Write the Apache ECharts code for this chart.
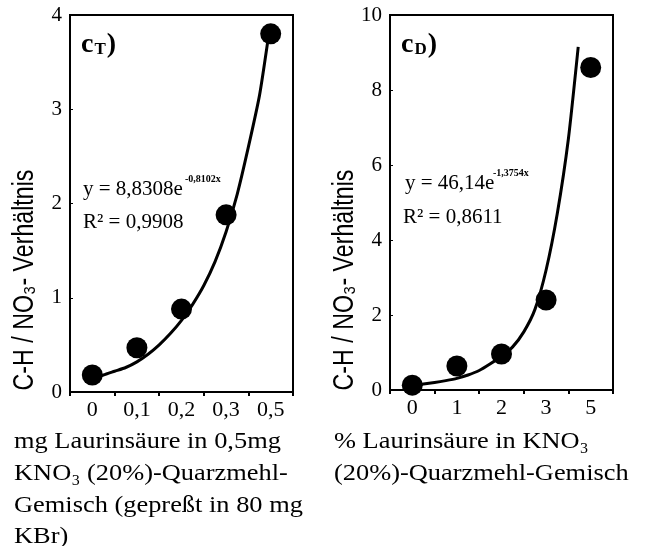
<!DOCTYPE html>
<html><head><meta charset="utf-8">
<script src="https://cdn.jsdelivr.net/npm/echarts@6/dist/echarts.min.js"></script>
<style>html,body{margin:0;padding:0;background:#fff}#c{width:649px;height:546px}</style>
</head><body><div id="c"></div>
<script>
// Panel cT
const catsT = ['0', '0,1', '0,2', '0,3', '0,5'];
const valsT = [0.18, 0.47, 0.88, 1.88, 3.8];
const curveTx = [1.0, 1.25, 1.5, 1.75, 2.0, 2.25, 2.5, 2.75, 3.0, 3.25, 3.5, 3.75, 4.0, 4.25, 4.5, 4.75, 4.94];
const curveTy = [0.15, 0.18, 0.22, 0.26, 0.32, 0.40, 0.50, 0.62, 0.76, 0.93, 1.13, 1.38, 1.70, 2.10, 2.60, 3.15, 3.74];
const yTicksT = [0, 1, 2, 3, 4];
// Panel cD
const catsD = ['0', '1', '2', '3', '5'];
const valsD = [0.13, 0.64, 0.96, 2.4, 8.6];
const curveDx = [1.0, 1.25, 1.5, 1.75, 2.0, 2.25, 2.5, 2.75, 3.0, 3.25, 3.5, 3.75, 4.0, 4.25, 4.5, 4.72];
const curveDy = [0.13, 0.16, 0.20, 0.25, 0.31, 0.40, 0.52, 0.70, 0.90, 1.15, 1.55, 2.15, 3.2, 4.7, 6.7, 9.15];
const yTicksD = [0, 2, 4, 6, 8, 10];

const serif = '"Liberation Serif", "DejaVu Serif", serif';
const sans = '"Liberation Sans", sans-serif';

const chart = echarts.init(document.getElementById('c'));
function catAxis(cats, gi) {
  return {
    type: 'category', data: cats, gridIndex: gi, boundaryGap: true,
    axisLine: { lineStyle: { color: '#000', width: 2 } },
    axisTick: { show: true, alignWithLabel: false, length: 4, lineStyle: { color: '#000', width: 2 } },
    axisLabel: { color: '#000', fontFamily: serif, fontSize: 22, margin: 7 }
  };
}
function hidAxis(gi) {
  return { type: 'value', gridIndex: gi, min: 0.5, max: 5.5, show: false };
}
function valAxis(ticks, gi) {
  return {
    type: 'value', gridIndex: gi, min: ticks[0], max: ticks[ticks.length - 1],
    interval: ticks[1] - ticks[0], splitLine: { show: false },
    axisLine: { show: true, lineStyle: { color: '#000', width: 2 } },
    axisTick: { show: true, inside: true, length: 3, lineStyle: { color: '#000' } },
    axisLabel: { color: '#000', fontFamily: serif, fontSize: 21, margin: 8 }
  };
}
const zipT = curveTx.map((x, i) => [x, curveTy[i]]);
const zipD = curveDx.map((x, i) => [x, curveDy[i]]);
const txt = (x, y, text, size, extra) => Object.assign({ type: 'text', x: x, y: y,
  style: { text: text, font: size + 'px ' + serif, fill: '#000', textVerticalAlign: 'middle' } }, extra || {});

chart.setOption({
  animation: false,
  grid: [
    { left: 70, top: 15, width: 223, height: 377, show: true, borderColor: '#000', borderWidth: 2 },
    { left: 390, top: 15, width: 223, height: 375, show: true, borderColor: '#000', borderWidth: 2 }
  ],
  xAxis: [catAxis(catsT, 0), hidAxis(0), catAxis(catsD, 1), hidAxis(1)],
  yAxis: [valAxis(yTicksT, 0), valAxis(yTicksD, 1)],
  series: [
    { type: 'line', xAxisIndex: 1, yAxisIndex: 0, data: zipT, smooth: 0.2,
      showSymbol: false, lineStyle: { color: '#000', width: 3 }, z: 2 },
    { type: 'scatter', xAxisIndex: 0, yAxisIndex: 0, data: valsT, symbolSize: 21,
      itemStyle: { color: '#000', opacity: 1 }, z: 3 },
    { type: 'line', xAxisIndex: 3, yAxisIndex: 1, data: zipD, smooth: 0.2,
      showSymbol: false, lineStyle: { color: '#000', width: 3 }, z: 2 },
    { type: 'scatter', xAxisIndex: 2, yAxisIndex: 1, data: valsD, symbolSize: 21,
      itemStyle: { color: '#000', opacity: 1 }, z: 3 }
  ],
  graphic: [
    { type: 'text', x: 81, y: 45, style: { text: '{c|c}{s|T}{c|)}', textVerticalAlign: 'middle',
      rich: { c: { font: 'bold 28px ' + serif, fill: '#000' }, s: { font: 'bold 17px ' + serif, fill: '#000', padding: [10, 1, 0, 1] } } } },
    { type: 'text', x: 401, y: 45, style: { text: '{c|c}{s|D}{c|)}', textVerticalAlign: 'middle',
      rich: { c: { font: 'bold 28px ' + serif, fill: '#000' }, s: { font: 'bold 17px ' + serif, fill: '#000', padding: [10, 1, 0, 1] } } } },
    txt(83, 189, 'y = 8,8308e', 21),
    { type: 'text', x: 185, y: 179, style: { text: '-0,8102x', font: 'bold 10px ' + serif, fill: '#000', textVerticalAlign: 'middle' } },
    txt(83, 222, 'R² = 0,9908', 21),
    txt(405, 183, 'y = 46,14e', 21),
    { type: 'text', x: 493, y: 173, style: { text: '-1,3754x', font: 'bold 10px ' + serif, fill: '#000', textVerticalAlign: 'middle' } },
    txt(403, 217, 'R² = 0,8611', 21),
    { type: 'text', x: 25, y: 280, rotation: Math.PI / 2, scaleX: 0.8, style: { text: 'C-H / NO₃- Verhältnis', font: '29px ' + sans, fill: '#000', textAlign: 'center', textVerticalAlign: 'middle' } },
    { type: 'text', x: 345, y: 280, rotation: Math.PI / 2, scaleX: 0.8, style: { text: 'C-H / NO₃- Verhältnis', font: '29px ' + sans, fill: '#000', textAlign: 'center', textVerticalAlign: 'middle' } },
    txt(14, 442, 'mg Laurinsäure in 0,5mg', 24, { scaleX: 1.1 }),
    txt(14, 474, 'KNO₃ (20%)-Quarzmehl-', 24, { scaleX: 1.1 }),
    txt(14, 506, 'Gemisch (gepreßt in 80 mg', 24, { scaleX: 1.1 }),
    txt(14, 537, 'KBr)', 24, { scaleX: 1.1 }),
    txt(334, 442, '% Laurinsäure in KNO₃', 24, { scaleX: 1.1 }),
    txt(334, 474, '(20%)-Quarzmehl-Gemisch', 24, { scaleX: 1.1 })
  ]
});
</script></body></html>
